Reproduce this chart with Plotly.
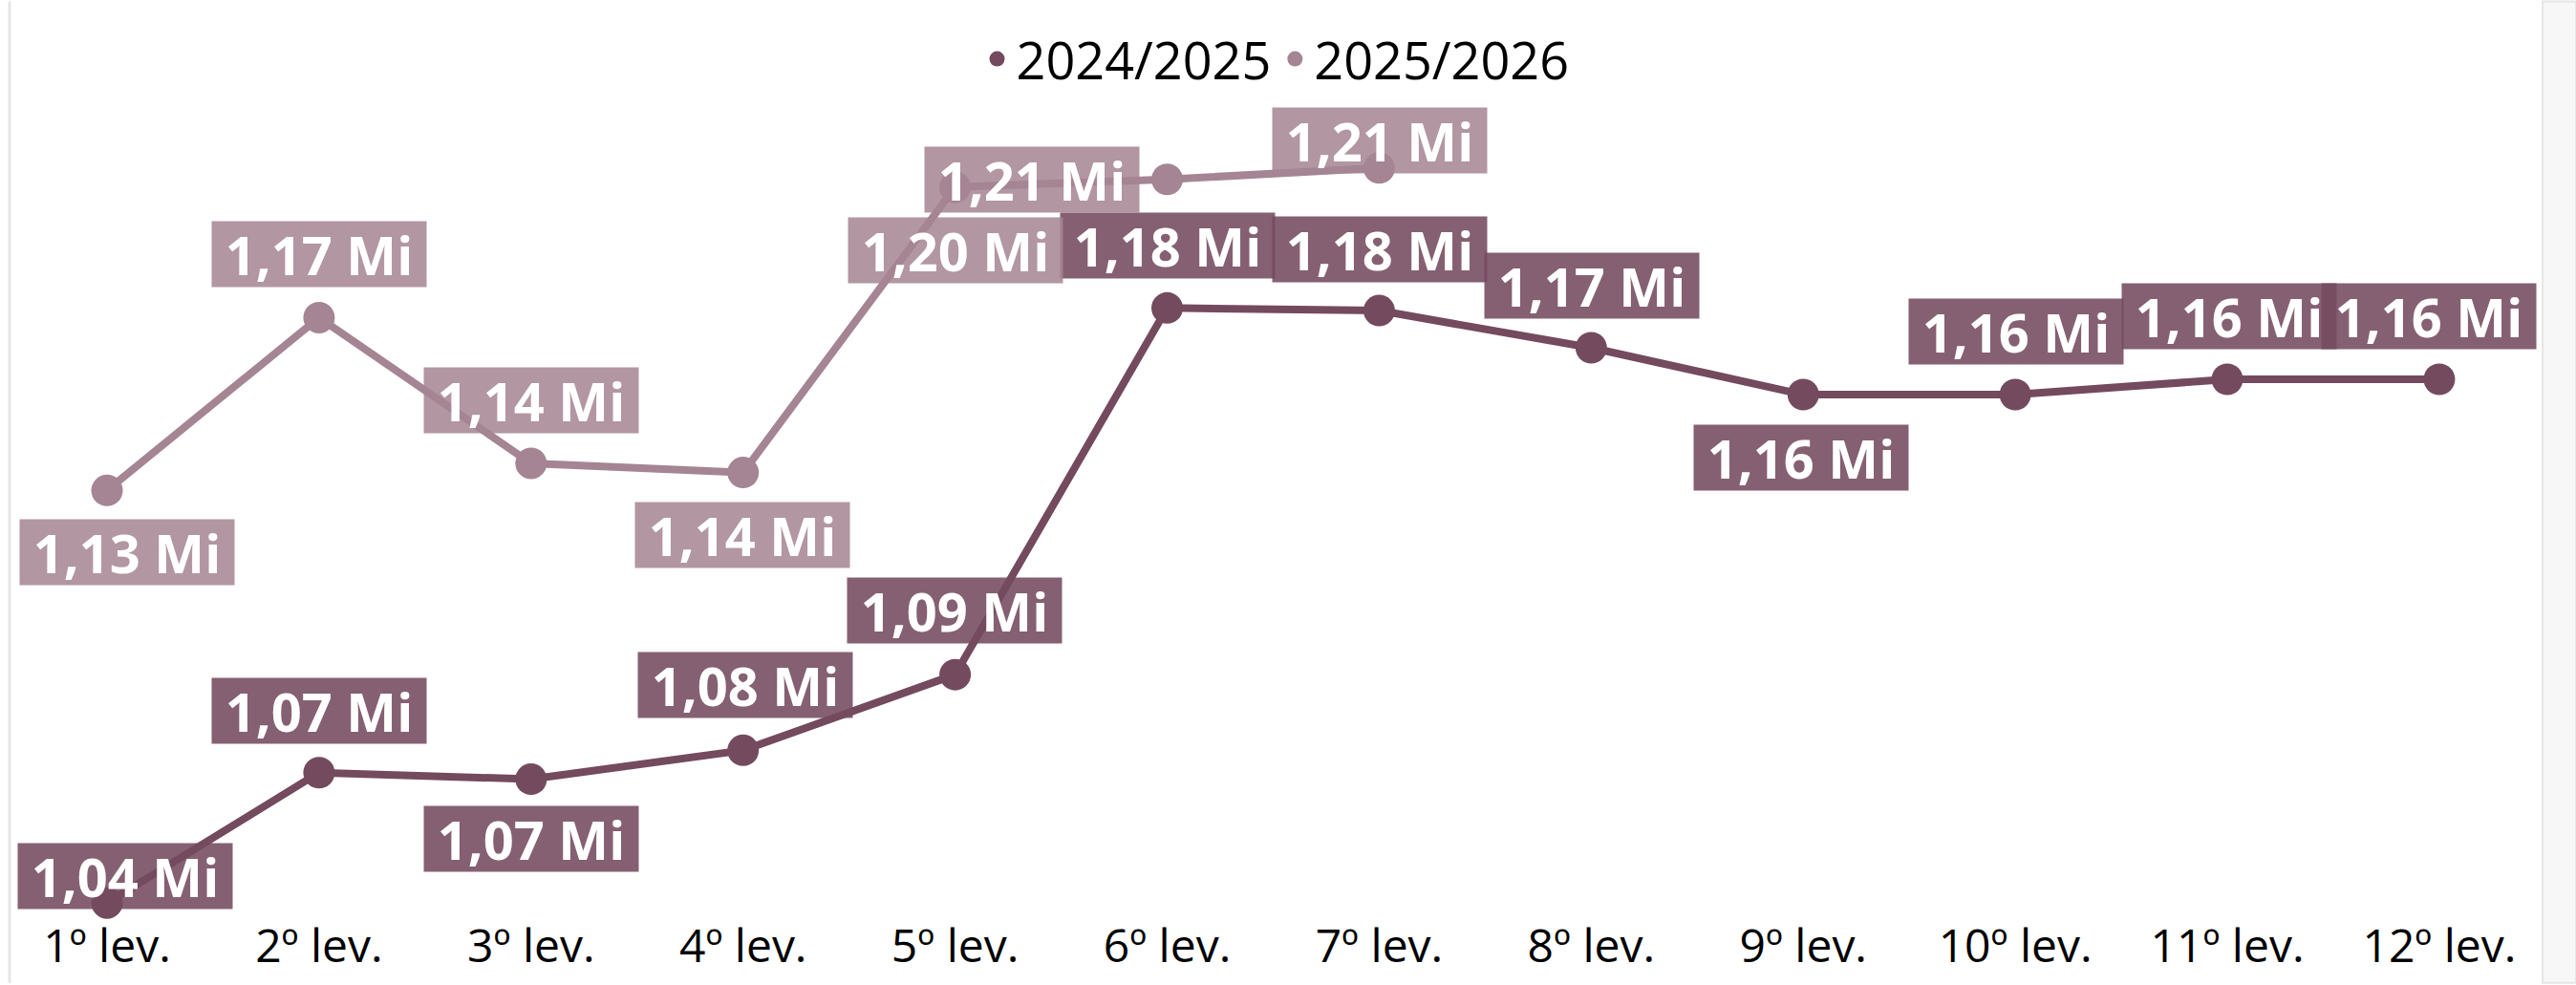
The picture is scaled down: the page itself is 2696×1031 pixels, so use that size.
import plotly.graph_objects as go

# ---------------------------
# data
# ---------------------------

levantamentos = ["1º lev.", "2º lev.", "3º lev.", "4º lev.", "5º lev.", "6º lev.",
                 "7º lev.", "8º lev.", "9º lev.", "10º lev.", "11º lev.", "12º lev."]

valores_2024_2025 = [1.0403, 1.0701, 1.0686, 1.0752, 1.0925, 1.1763,
                     1.1757, 1.1672, 1.1565, 1.1565, 1.1600, 1.1600]

valores_2025_2026 = [1.1346, 1.1741, 1.1408, 1.1387, 1.2039, 1.2057, 1.2083]

nomes = ["2024/2025", "2025/2026"]

# ---------------------------
# styles
# ---------------------------

cor_linha = ["#744A5E", "#A58593"]
cor_rotulo = ["rgba(116,74,94,0.88)", "rgba(165,133,147,0.86)"]

# label offsets in pixels (dx, dy), dy positive = down
desloc_2024 = [(19, -28), (0, -65), (0, 62), (2, -68), (-1, -67), (0, -65),
               (1, -64), (1, -65), (-2, 66), (1, -66), (2, -66), (-11, -66)]
desloc_2025 = [(21, 65), (0, -66), (0, -66), (-1, 65), (0, 66), (-142, 0), (1, -29)]

W, H = 2696, 1031
L, R, T, B = 10, 35, 113, 71

fonte = "Segoe UI, Open Sans, sans-serif"

fig = go.Figure()

series = [valores_2024_2025, valores_2025_2026]
deslocs = [desloc_2024, desloc_2025]

for i, valores in enumerate(series):
    x = levantamentos[:len(valores)]

    fig.add_trace(go.Scatter(
        x=x,
        y=valores,
        mode="lines",
        line=dict(color=cor_linha[i], width=8),
        showlegend=False,
        hoverinfo="skip",
        cliponaxis=False
    ))

    fig.add_trace(go.Scatter(
        x=x,
        y=valores,
        mode="markers",
        marker=dict(color=cor_linha[i], size=33),
        name=nomes[i],
        cliponaxis=False
    ))

annotations = []
for i, valores in enumerate(series):
    for j, v in enumerate(valores):
        dx, dy = deslocs[i][j]
        annotations.append(dict(
            x=levantamentos[j],
            y=v,
            xref="x",
            yref="y",
            text=f"{v:.2f}".replace(".", ",") + " Mi",
            showarrow=False,
            xshift=dx,
            yshift=-dy,
            width=222,
            height=66,
            bgcolor=cor_rotulo[i],
            font=dict(family=fonte, size=56, color="white", weight="bold")
        ))

fig.update_layout(
    width=W,
    height=H,
    margin=dict(l=L, r=R, t=T, b=B),
    paper_bgcolor="white",
    plot_bgcolor="white",
    annotations=annotations,
    legend=dict(
        orientation="h",
        x=0.5,
        xanchor="center",
        yref="container",
        y=1 - 62 / H,
        yanchor="middle",
        font=dict(family=fonte, size=54, color="black"),
        itemsizing="trace"
    ),
    xaxis=dict(
        type="category",
        range=[-0.4597, 11.487],
        showgrid=False,
        zeroline=False,
        showline=False,
        ticks="",
        tickfont=dict(family=fonte, size=48, color="black")
    ),
    yaxis=dict(
        range=[1.0375, 1.2218],
        visible=False
    ),
    shapes=[
        dict(type="line", xref="paper", yref="paper", x0=0, x1=0,
             y0=-B / (H - T - B), y1=1 + T / (H - T - B),
             line=dict(color="#E6E6E6", width=3)),
        dict(type="rect", xref="paper", yref="paper", x0=1, x1=1 + R / (W - L - R),
             y0=-B / (H - T - B), y1=1 + T / (H - T - B),
             fillcolor="#F7F7F7", line=dict(color="#E6E6E6", width=2))
    ]
)

fig.write_html("out.html", config={"displayModeBar": False},
               post_script="document.body.style.margin = '0';")
